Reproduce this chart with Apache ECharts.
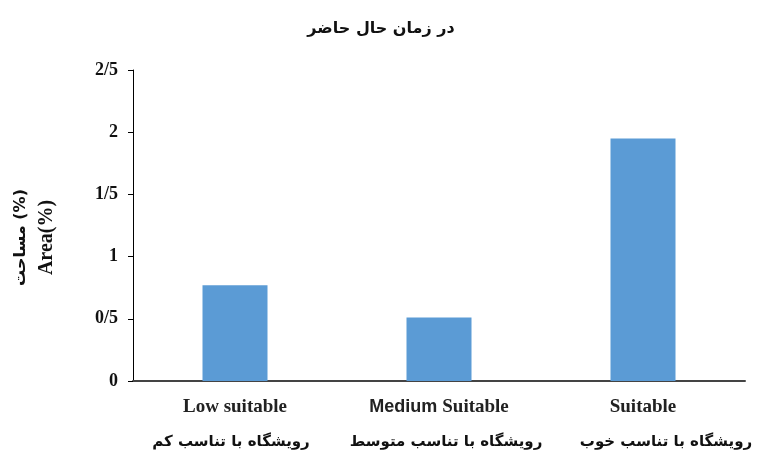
<!DOCTYPE html>
<html>
<head>
<meta charset="utf-8">
<script src="https://cdn.jsdelivr.net/npm/echarts@6/dist/echarts.min.js"></script>
<style>html,body{margin:0;padding:0;background:#fff}#c{width:762px;height:458px}</style>
</head>
<body>
<div id="c"></div>
<script>
var titleText = 'در زمان حال حاضر';
var categoriesEnFirstWord = ['', 'Medium ', ''];
var categoriesEnRest = ['Low suitable', 'Suitable', 'Suitable'];
var categoriesFa = ['رویشگاه با تناسب کم', 'رویشگاه با تناسب متوسط', 'رویشگاه با تناسب خوب'];
var values = [0.77, 0.51, 1.95];
var yTickLabels = {'0': '0', '0.5': '0/5', '1': '1', '1.5': '1/5', '2': '2', '2.5': '2/5'};
var yNameFa = 'مساحت (%)';
var yNameEn = 'Area(%)';

var faStyles = ['fa0', 'fa1', 'fa2'];

var chart = echarts.init(document.getElementById('c'));
chart.setOption({
  animation: false,
  backgroundColor: '#fff',
  title: {
    text: titleText, left: 'center', top: 16,
    textStyle: {fontFamily: 'DejaVu Sans', fontWeight: 'bold', fontSize: 16, color: '#111'}
  },
  grid: {left: 133, right: 17, top: 70, bottom: 77},
  xAxis: {
    type: 'category',
    data: categoriesFa.map(function (e, i) { return i; }),
    axisLine: {lineStyle: {color: '#444', width: 2}},
    axisTick: {show: false},
    axisLabel: {
      margin: 11,
      interval: 0,
      formatter: function (v, i) {
        var first = categoriesEnFirstWord[i] ? '{sans|' + categoriesEnFirstWord[i] + '}' : '';
        return first + '{en|' + categoriesEnRest[i] + '}\n{' + faStyles[i] + '|' + categoriesFa[i] + '}';
      },
      rich: {
        en: {fontFamily: 'Liberation Serif', fontWeight: 'bold', fontSize: 19, color: '#222', lineHeight: 30},
        sans: {fontFamily: 'Liberation Sans', fontWeight: 'bold', fontSize: 18, color: '#222', lineHeight: 30},
        fa0: {fontFamily: 'DejaVu Sans', fontWeight: 'bold', fontSize: 15, color: '#111', lineHeight: 40, padding: [0, 8, 0, 0]},
        fa1: {fontFamily: 'DejaVu Sans', fontWeight: 'bold', fontSize: 15, color: '#111', lineHeight: 40, padding: [0, 0, 0, 14]},
        fa2: {fontFamily: 'DejaVu Sans', fontWeight: 'bold', fontSize: 15, color: '#111', lineHeight: 40, padding: [0, 0, 0, 46]}
      }
    }
  },
  yAxis: {
    type: 'value', min: 0, max: 2.5, interval: 0.5,
    name: '{fa|' + yNameFa + '}\n{en|' + yNameEn + '}',
    nameLocation: 'middle', nameGap: 73,
    nameTextStyle: {
      padding: [0, 24, 0, 0],
      rich: {
        fa: {fontFamily: 'DejaVu Sans', fontWeight: 'bold', fontSize: 16, color: '#111', lineHeight: 26},
        en: {fontFamily: 'Liberation Serif', fontWeight: 'bold', fontSize: 20, color: '#111', lineHeight: 26}
      }
    },
    axisLine: {show: true, lineStyle: {color: '#000', width: 1}},
    axisTick: {show: true, length: 5, lineStyle: {color: '#000'}},
    splitLine: {show: false},
    axisLabel: {
      margin: 15,
      fontFamily: 'Liberation Serif', fontWeight: 'bold', fontSize: 18, color: '#111',
      formatter: function (v) { return yTickLabels[String(v)]; }
    }
  },
  series: [{
    type: 'bar', data: values, barWidth: 65,
    itemStyle: {color: '#5B9BD5'}
  }]
});
</script>
</body>
</html>
